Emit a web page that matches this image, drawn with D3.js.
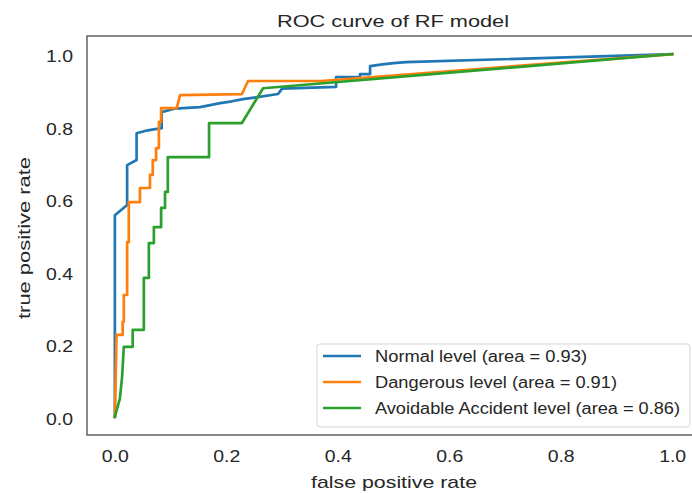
<!DOCTYPE html>
<html><head><meta charset="utf-8">
<script src="https://cdn.jsdelivr.net/npm/d3@7/dist/d3.min.js"></script>
<style>body{margin:0;background:#fff}svg{display:block}text{font-family:"Liberation Sans",Arial,sans-serif;fill:#262626}</style>
</head><body><svg id="c" width="692" height="493"></svg>
<script>
const title = "ROC curve of RF model";
const xLabel = "false positive rate";
const yLabel = "true positive rate";
const ticks = [0, 0.2, 0.4, 0.6, 0.8, 1.0];
const seriesNames = ["Normal level (area = 0.93)", "Dangerous level (area = 0.91)", "Avoidable Accident level (area = 0.86)"];
const colors = ["#1f77b4", "#ff7f0e", "#2ca02c"];
const normalFpr = [0, 0, 0.022, 0.022, 0.039, 0.039, 0.059, 0.084, 0.084, 0.108, 0.153, 0.189, 0.21, 0.23, 0.25, 0.293, 0.3, 0.397, 0.397, 0.44, 0.44, 0.458, 0.458, 0.48, 0.5, 0.522, 1];
const normalTpr = [0, 0.556, 0.584, 0.694, 0.708, 0.782, 0.79, 0.796, 0.84, 0.85, 0.854, 0.865, 0.87, 0.876, 0.88, 0.89, 0.905, 0.91, 0.937, 0.937, 0.945, 0.945, 0.967, 0.972, 0.975, 0.978, 1];
const dangerFpr = [0, 0.003, 0.014, 0.014, 0.016, 0.016, 0.022, 0.022, 0.025, 0.025, 0.045, 0.045, 0.063, 0.063, 0.068, 0.068, 0.074, 0.074, 0.079, 0.079, 0.083, 0.083, 0.111, 0.117, 0.228, 0.239, 0.37, 1];
const dangerTpr = [0, 0.226, 0.226, 0.262, 0.262, 0.336, 0.336, 0.482, 0.482, 0.592, 0.592, 0.631, 0.631, 0.667, 0.667, 0.708, 0.708, 0.741, 0.741, 0.813, 0.813, 0.851, 0.851, 0.887, 0.89, 0.926, 0.926, 1];
const avoidFpr = [0, 0.009, 0.013, 0.016, 0.032, 0.032, 0.052, 0.052, 0.061, 0.061, 0.07, 0.07, 0.083, 0.083, 0.09, 0.09, 0.095, 0.095, 0.169, 0.169, 0.228, 0.266, 1];
const avoidTpr = [0, 0.05, 0.11, 0.193, 0.193, 0.24, 0.24, 0.383, 0.383, 0.479, 0.479, 0.523, 0.523, 0.576, 0.576, 0.62, 0.62, 0.716, 0.716, 0.81, 0.81, 0.906, 1];

const series = [
  {name: seriesNames[0], fpr: normalFpr, tpr: normalTpr, w: 212},
  {name: seriesNames[1], fpr: dangerFpr, tpr: dangerTpr, w: 242},
  {name: seriesNames[2], fpr: avoidFpr, tpr: avoidTpr, w: 305}
];

const svg = d3.select("#c");
const L = 87, R = 700, T = 36, B = 435;
const x = d3.scaleLinear().domain([-0.05, 1.05]).range([L, R]);
const y = d3.scaleLinear().domain([-0.05, 1.05]).range([B, T]);

const line = d3.line().x(d => x(d[0])).y(d => y(d[1]));
series.forEach((s, i) => {
  const pts = s.fpr.map((f, j) => [f, s.tpr[j]]);
  svg.append("path").datum(pts).attr("d", line)
    .attr("fill", "none").attr("stroke", colors[i]).attr("stroke-width", 2.7)
    .attr("stroke-linejoin", "round").attr("stroke-linecap", "square");
});

// frame
svg.append("rect").attr("x", L).attr("y", T).attr("width", R - L).attr("height", B - T)
  .attr("fill", "none").attr("stroke", "#4a4a4a").attr("stroke-width", 1.3);

const fmt = d3.format(".1f");
const xa = svg.append("g").attr("transform", `translate(0,${B})`)
  .call(d3.axisBottom(x).tickValues(ticks).tickFormat(fmt).tickSize(0).tickPadding(15));
const ya = svg.append("g").attr("transform", `translate(${L},0)`)
  .call(d3.axisLeft(y).tickValues(ticks).tickFormat(fmt).tickSize(0).tickPadding(14));
[xa, ya].forEach(a => {
  a.select(".domain").remove();
  a.selectAll("text").style("font-size", "17px").style("font-family", "Liberation Sans, Arial, sans-serif")
    .attr("fill", "#262626").attr("textLength", 27).attr("lengthAdjust", "spacingAndGlyphs");
});
ya.selectAll("text").attr("dy", "0.45em");

svg.append("text").attr("x", 393).attr("y", 27).attr("text-anchor", "middle").style("font-size", "17px")
  .attr("textLength", 232).attr("lengthAdjust", "spacingAndGlyphs").text(title);
svg.append("text").attr("x", 394).attr("y", 488).attr("text-anchor", "middle").style("font-size", "17px")
  .attr("textLength", 166).attr("lengthAdjust", "spacingAndGlyphs").text(xLabel);
svg.append("text").attr("transform", `translate(30,238) rotate(-90)`).attr("text-anchor", "middle").style("font-size", "17px")
  .attr("textLength", 162).attr("lengthAdjust", "spacingAndGlyphs").text(yLabel);

// legend
const lg = svg.append("g");
lg.append("rect").attr("x", 317).attr("y", 344).attr("width", 373).attr("height", 83).attr("rx", 3)
  .attr("fill", "#fff").attr("fill-opacity", 0.85).attr("stroke", "#d5d5d5").attr("stroke-width", 1);
series.forEach((s, i) => {
  const yy = 356 + i * 26;
  lg.append("line").attr("x1", 323).attr("x2", 361).attr("y1", yy).attr("y2", yy).attr("stroke", colors[i]).attr("stroke-width", 2.7);
  lg.append("text").attr("x", 375).attr("y", yy + 6).style("font-size", "16px")
    .attr("textLength", s.w).attr("lengthAdjust", "spacingAndGlyphs").text(s.name);
});
</script></body></html>
